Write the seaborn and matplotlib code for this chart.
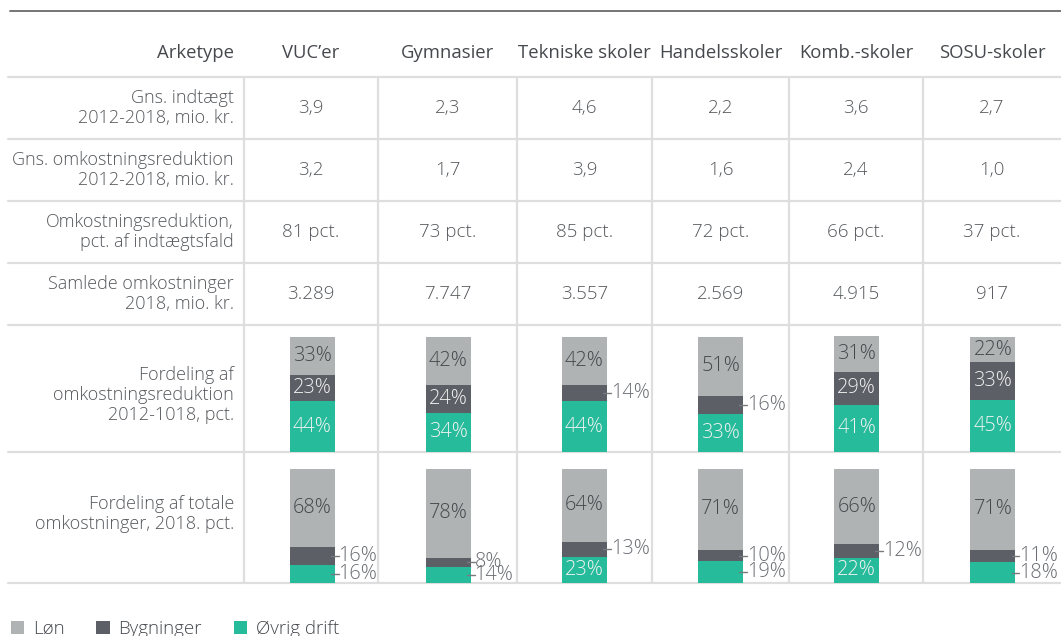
import matplotlib
matplotlib.use("Agg")
import matplotlib.pyplot as plt
import matplotlib as mpl
from matplotlib.patches import Patch
import pandas as pd
import seaborn as sns

sns.set_style("white")
mpl.rcParams["font.family"] = ["Open Sans", "DejaVu Sans"]

# Data
schools = ["VUC’er", "Gymnasier", "Tekniske skoler", "Handelsskoler", "Komb.-skoler", "SOSU-skoler"]
row_labels = [
    "Gns. indtægt\n2012-2018, mio. kr.",
    "Gns. omkostningsreduktion\n2012-2018, mio. kr.",
    "Omkostningsreduktion,\npct. af indtægtsfald",
    "Samlede omkostninger\n2018, mio. kr.",
]
indtaegt = ["3,9", "2,3", "4,6", "2,2", "3,6", "2,7"]
reduktion = ["3,2", "1,7", "3,9", "1,6", "2,4", "1,0"]
reduktion_pct = ["81 pct.", "73 pct.", "85 pct.", "72 pct.", "66 pct.", "37 pct."]
samlede = ["3.289", "7.747", "3.557", "2.569", "4.915", "917"]

bar_labels = [
    "Fordeling af\nomkostningsreduktion\n2012-1018, pct.",
    "Fordeling af totale\nomkostninger, 2018. pct.",
]
red_lon = [33, 42, 42, 51, 31, 22]
red_byg = [23, 24, 14, 16, 29, 33]
red_ovr = [44, 34, 44, 33, 41, 45]
tot_lon = [68, 78, 64, 71, 66, 71]
tot_byg = [16, 8, 13, 10, 12, 11]
tot_ovr = [16, 14, 23, 19, 22, 18]

series = ["Løn", "Bygninger", "Øvrig drift"]
colors = {"Løn": "#b0b3b3", "Bygninger": "#5c5f66", "Øvrig drift": "#26bb9b"}

W, H = 1061, 636
text_dark = "#45484d"
text_val = "#55585c"
grid_col = "#dedede"

fig = plt.figure(figsize=(W / 100, H / 100), dpi=100)
ax = fig.add_axes([0, 0, 1, 1])
ax.set_xlim(0, W)
ax.set_ylim(H, 0)
ax.axis("off")

# table layout (pixels)
col_lines = [244, 378, 517, 652, 789, 923, W]
row_lines = [77, 139, 201, 263, 325, 452, 583]
col_centers = [(a + b) / 2 for a, b in zip(col_lines[:-1], col_lines[1:])]
label_x = 234
fs_head = 13.3
fs_lab = 13.0
fs_val = 13.5
fs_bar = 14.3

ax.plot([10, W], [11, 11], color="#6a6a6a", lw=1.3)
for y in row_lines:
    ax.plot([8, W], [y, y], color=grid_col, lw=1.6)
for x in col_lines[:-1]:
    ax.plot([x, x], [row_lines[0], row_lines[-1]], color=grid_col, lw=1.6)

# header
ax.text(label_x, 53, "Arketype", ha="right", va="center", fontsize=fs_head, color=text_dark)
for cx, s in zip(col_centers, schools):
    ax.text(cx, 53, s, ha="center", va="center", fontsize=fs_head, color=text_dark)

# value rows
values = [indtaegt, reduktion, reduktion_pct, samlede]
for i, (lab, vals) in enumerate(zip(row_labels, values)):
    cy = (row_lines[i] + row_lines[i + 1]) / 2
    ax.text(label_x, cy, lab, ha="right", va="center", fontsize=fs_lab, color=text_val,
            linespacing=1.17, fontweight="light")
    for cx, v in zip(col_centers, vals):
        ax.text(cx, cy, v, ha="center", va="center", fontsize=fs_val, color=text_val, fontweight="light")

ax.text(label_x, 395, bar_labels[0], ha="right", va="center", fontsize=fs_lab, color=text_val,
        linespacing=1.17, fontweight="light")
ax.text(label_x, 514, bar_labels[1], ha="right", va="center", fontsize=fs_lab, color=text_val,
        linespacing=1.17, fontweight="light")

# stacked bars
bar_rows = [
    (337, 452, red_lon, red_byg, red_ovr),
    (469, 583, tot_lon, tot_byg, tot_ovr),
]
bw = 0.33
for top, bottom, lon, byg, ovr in bar_rows:
    bax = fig.add_axes([col_lines[0] / W, 1 - bottom / H,
                        (W - col_lines[0]) / W, (bottom - top) / H])
    df = pd.DataFrame({"skole": schools, "Løn": lon, "Bygninger": byg, "Øvrig drift": ovr})
    df["cum_ovr"] = df["Øvrig drift"]
    df["cum_byg"] = df["cum_ovr"] + df["Bygninger"]
    df["cum_lon"] = df["cum_byg"] + df["Løn"]
    for col, name in [("cum_lon", "Løn"), ("cum_byg", "Bygninger"), ("cum_ovr", "Øvrig drift")]:
        sns.barplot(data=df, x="skole", y=col, order=schools, color=colors[name],
                    width=bw, saturation=1, ax=bax, linewidth=0)
    for p in bax.patches:
        p.set_clip_on(False)
    bax.set_xlim(-0.5, 5.5)
    bax.set_ylim(0, 100)
    bax.axis("off")

    for i in range(len(schools)):
        segs = [
            (df.loc[i, "Øvrig drift"], df.loc[i, "cum_ovr"], "Øvrig drift"),
            (df.loc[i, "Bygninger"], df.loc[i, "cum_byg"], "Bygninger"),
            (df.loc[i, "Løn"], df.loc[i, "cum_lon"], "Løn"),
        ]
        for v, top_v, name in segs:
            mid = top_v - v / 2
            if v >= 20:
                tc = text_dark if name == "Løn" else "#f2f2f2"
                bax.text(i, mid, f"{v}%", ha="center", va="center", fontsize=fs_bar,
                         color=tc, fontweight="light")
            else:
                x0 = i + bw / 2
                bax.plot([x0 - 0.028, x0 + 0.03], [mid, mid], color="#777a7e", lw=1, clip_on=False)
                bax.text(x0 + 0.028, mid, f"{v}%", ha="left", va="center", fontsize=fs_bar,
                         color="#6a6d72", fontweight="light")

# legend
handles = [Patch(facecolor=colors[s], edgecolor="none") for s in series]
fig.legend(handles, series, loc="center left", bbox_to_anchor=(-0.0057, 0.011), ncol=3,
           frameon=False, prop={"size": 13.5, "weight": "light"}, handlelength=0.7,
           handleheight=0.7, handletextpad=0.48, columnspacing=1.7, labelcolor=text_dark)

fig.savefig("out.png", dpi=100)
